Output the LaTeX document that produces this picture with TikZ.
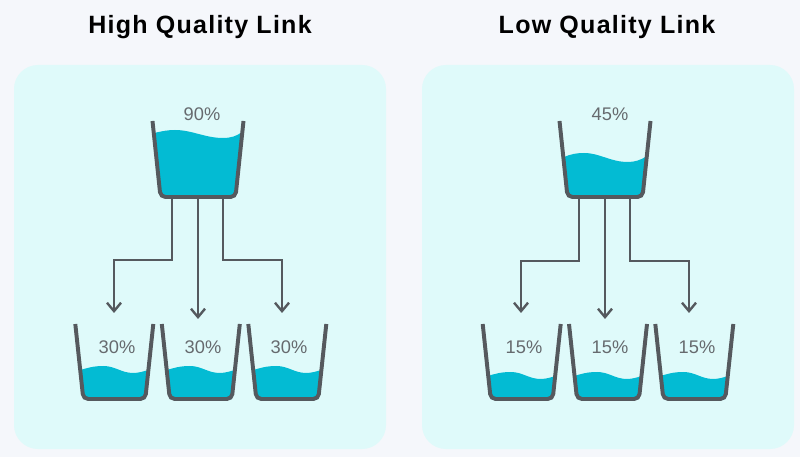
\documentclass[tikz,border=0pt]{standalone}
\usepackage{fontspec}
\usepackage{color}
\usetikzlibrary{arrows.meta}
\setmainfont{Liberation Sans}
\newfontfamily\titlefont[LetterSpace=5]{Liberation Sans Bold}

\definecolor{pagebg}{HTML}{F5F7FB}
\definecolor{panelbg}{HTML}{DFFAFA}
\definecolor{water}{HTML}{03BBD3}
\definecolor{cupline}{HTML}{55595E}

\tikzset{
  panel/.style={fill=panelbg, rounded corners=17pt},
  heading/.style={font=\titlefont\fontsize{17.8}{20}\selectfont, text=black},
  percent/.style={font=\fontsize{13}{15}\selectfont, text=cupline!90},
  flow/.style={draw=cupline, line width=2pt, -{Straight Barb[length=6pt,width=10pt,line width=1.7pt]}},
  cupedge/.style={draw=cupline, line width=2.8pt, rounded corners=3.5pt},
  smallcup/.pic={
    \fill[water] (5,#1) .. controls (12,#1-2) and (18,#1-4) .. (28,#1-4)
                 .. controls (40,#1-4) and (46,#1+3) .. (58,#1+3)
                 .. controls (64,#1+3) and (69,#1+1) .. (73,#1) -- (70,75) -- (8,75) -- cycle;
    \draw[cupedge] (0,0) -- (8,75) -- (70,75) -- (78,0);
  },
  bigcup/.pic={
    \draw[cupedge] (0,0) -- (8,76) -- (83,76) -- (91,0);
  }
}

\begin{document}
\begin{tikzpicture}[x=0.025cm, y=-0.025cm]
    \fill[pagebg] (0,0) rectangle (800,457);
    \fill[panel] ( 14,65) rectangle (386,449);
    \fill[panel] (422,65) rectangle (794,449);

    \node[heading] (hqtitle) at (200,27) {High Quality Link};
    \node[heading] (lqtitle) at (607,27) {Low Quality Link};

    % high quality link
    \fill[water] (154,133) .. controls (163,131) and (168,130) .. (175,130)
                 .. controls (192,130) and (205,138) .. (223,138)
                 .. controls (231,138) and (237,136) .. (242,132) -- (235,197) -- (161,197) -- cycle;
    \pic at (152.5,121) {bigcup};
    \pic at ( 75.3,324) {smallcup=46};
    \pic at (161.8,324) {smallcup=46};
    \pic at (248.3,324) {smallcup=46};

    \node[percent] (hqtop)   at (202,114) {90\%};
    \node[percent] (hqleft)  at (117,347) {30\%};
    \node[percent] (hqmid)   at (203,347) {30\%};
    \node[percent] (hqright) at (289,347) {30\%};

    \coordinate (hqout1) at (172,197);
    \coordinate (hqout2) at (198,197);
    \coordinate (hqout3) at (223,197);
    \coordinate (hqin1)  at (114,313);
    \coordinate (hqin2)  at (198,319);
    \coordinate (hqin3)  at (282,313);
    \coordinate (hqbend) at (0,260);

    \draw[flow] (hqout1) -- (hqout1 |- hqbend) -| (hqin1);
    \draw[flow] (hqout2) -- (hqin2);
    \draw[flow] (hqout3) -- (hqout3 |- hqbend) -| (hqin3);

    % low quality link
    \fill[water] (564,157) .. controls (571,154) and (577,153) .. (584,153)
                 .. controls (600,153) and (610,162) .. (628,162)
                 .. controls (635,162) and (641,160) .. (647,156) -- (642,197) -- (568,197) -- cycle;
    \pic at (559.5,121) {bigcup};
    \pic at (482.7,324) {smallcup=52};
    \pic at (569.0,324) {smallcup=52};
    \pic at (655.3,324) {smallcup=52};

    \node[percent] (lqtop)   at (610,114) {45\%};
    \node[percent] (lqleft)  at (524,347) {15\%};
    \node[percent] (lqmid)   at (610,347) {15\%};
    \node[percent] (lqright) at (697,347) {15\%};

    \coordinate (lqout1) at (579,197);
    \coordinate (lqout2) at (605,197);
    \coordinate (lqout3) at (630,197);
    \coordinate (lqin1)  at (521,313);
    \coordinate (lqin2)  at (605,319);
    \coordinate (lqin3)  at (689,313);
    \coordinate (lqbend) at (0,261);

    \draw[flow] (lqout1) -- (lqout1 |- lqbend) -| (lqin1);
    \draw[flow] (lqout2) -- (lqin2);
    \draw[flow] (lqout3) -- (lqout3 |- lqbend) -| (lqin3);
\end{tikzpicture}
\end{document}
